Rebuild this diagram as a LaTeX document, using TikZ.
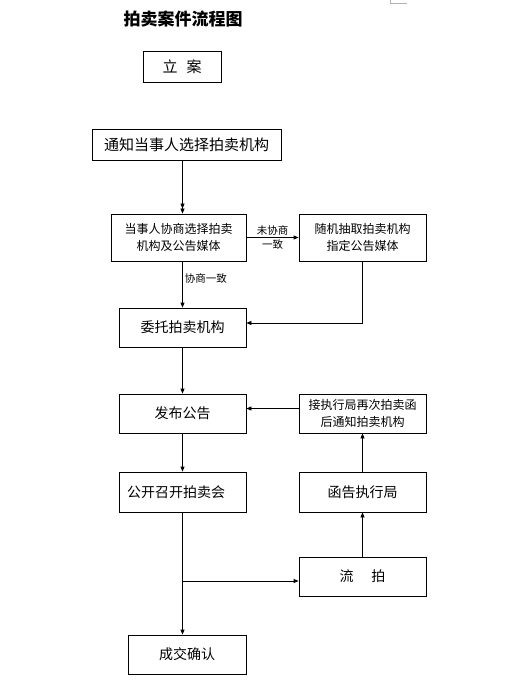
\documentclass[tikz,border=0pt]{standalone}
\usepackage{fontspec}
\setmainfont{Noto Sans CJK SC}
\usepackage{tikz}
\usetikzlibrary{arrows.meta}

\begin{document}
\begin{tikzpicture}[x=1pt,y=-1pt,line width=0.8pt]
			\tikzstyle{box} = [draw, minimum width=127, minimum height=39, inner sep=2, font=\fontsize{14}{17}\selectfont]
			\tikzstyle{twoline} = [box, minimum height=47, align=center, font=\fontsize{12}{17}\selectfont]
			\tikzstyle{lbl} = [font=\fontsize{10.5}{13}\selectfont, inner sep=2]
			\tikzstyle{->} = [-{Triangle[length=5pt,width=4pt]}]
			\useasboundingbox (0,0) rectangle (519,692);

			\node [font=\bfseries\fontsize{17}{20}\selectfont] (title) at (183,19) {拍卖案件流程图};
			\node [box,minimum width=78,minimum height=31,font=\fontsize{15}{17}\selectfont] (la) at (182,66.5) {立\hspace{9pt}案};
			\node [box,minimum width=189,minimum height=31,font=\fontsize{15}{17}\selectfont] (tz) at (186.5,144.5) {通知当事人选择拍卖机构};
			\node [twoline,minimum width=135] (xs) at (178.5,237.5) {当事人协商选择拍卖\\机构及公告媒体};
			\node [twoline] (sj) at (362.5,237.5) {随机抽取拍卖机构\\指定公告媒体};
			\node [box] (wt) at (182.5,327.5) {委托拍卖机构};
			\node [box] (fb) at (182.5,413.5) {发布公告};
			\node [twoline,minimum height=39,inner sep=0] (jz) at (362.5,413.5) {接执行局再次拍卖函\\后通知拍卖机构};
			\node [box,minimum height=40,text width=111,inner xsep=8,align=left] (gk) at (182.5,492) {公开召开拍卖会};
			\node [box,minimum height=40] (hg) at (362.5,492) {函告执行局};
			\node [box] (lp) at (362.5,576.5) {流\hspace{18pt}拍};
			\node [box,minimum width=118] (cj) at (187,654.5) {成交确认};
			\coordinate (br) at (182.5,581);

			% left column
			\draw [-{Triangle[length=5pt,width=4pt] Triangle[length=5pt,width=4pt]}] (tz.south -| wt.north) -- (xs.north -| wt.north);
			\draw [->] (xs.south -| wt.north) -- (wt.north) node[lbl,pos=0.36,right] {协商一致};
			\draw [->] (wt.south) -- (fb.north);
			\draw [->] (fb.south) -- (gk.north);
			\draw [->] (gk.south) -- (gk.south |- cj.north);

			% right column
			\draw [->] (xs.east) -- (sj.west) node[lbl,midway,above] {未协商} node[lbl,midway,below] {一致};
			\draw [->] (sj.south) |- ([yshift=4.5pt]wt.east);
			\draw [->] ([yshift=5pt]jz.west) -- ([yshift=5pt]fb.east);
			\draw [->] (br) -- (br -| lp.west);
			\draw [->] (lp.north) -- (hg.south);
			\draw [->] (hg.north) -- (jz.south);

			\draw [gray!60, line width=0.6pt] (390,0) -- (390,3) -- (407,3);
		\end{tikzpicture}
\end{document}
